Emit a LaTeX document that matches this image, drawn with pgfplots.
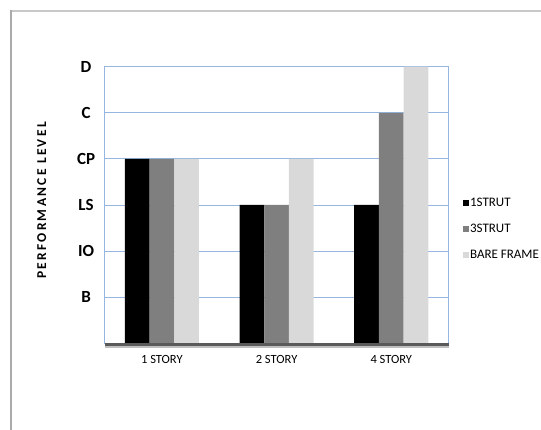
\documentclass[border=0pt]{standalone}
\usepackage{pgfplots}
\pgfplotsset{compat=1.18}
\usepackage{fontspec}
\setmainfont{Carlito}
\newfontfamily\ylabfont[LetterSpace=17]{Carlito}
\definecolor{gridblue}{RGB}{150,182,225}
\definecolor{barblack}{RGB}{0,0,0}
\definecolor{bargray}{RGB}{127,127,127}
\definecolor{barlight}{RGB}{217,217,217}
\definecolor{axisdark}{RGB}{90,90,90}
\definecolor{framegray}{RGB}{200,200,200}
\definecolor{framedark}{RGB}{170,170,170}
\begin{document}
\begin{tikzpicture}[x=1pt,y=1pt]
\path[use as bounding box] (0,0) rectangle (541,430);
\draw[line width=1.6pt, framegray] (11,419) -- (541,419);
\draw[line width=1.8pt, framedark] (11,0) -- (11,419.8);
\begin{axis}[
  at={(104.6pt,86.7pt)}, anchor=south west,
  scale only axis, width=344pt, height=276.6pt,
  ybar=0pt, bar width=24.7pt,
  xmin=-0.5, xmax=2.5, ymin=0, ymax=6,
  xtick={0,1,2}, xticklabels={1 STORY, 2 STORY, 4 STORY},
  ytick={1,2,3,4,5,6}, yticklabels={B,IO,LS,CP,C,D},
  major tick length=0pt,
  ymajorgrids, grid style={gridblue, line width=0.9pt},
  axis line style={gridblue, line width=0.9pt},
  xticklabel style={font=\fontsize{12.5}{14}\selectfont, yshift=-9pt},
  yticklabel style={font=\fontsize{17}{20}\selectfont\bfseries, anchor=center, xshift=-18.5pt},
  ylabel={PERFORMANCE LEVEL},
  ylabel style={font=\fontsize{13.5}{16}\selectfont\bfseries\ylabfont, at={(axis description cs:-0.183,0.516)}, anchor=center},
  legend style={draw=none, fill=none, at={(axis description cs:1.04,0.413)}, anchor=west,
    font=\fontsize{13}{15}\selectfont, row sep=12pt, inner sep=0pt, nodes={inner xsep=1.5pt}},
  legend cell align=left,
  legend image code/.code={\fill[#1] (0pt,-3pt) rectangle (6pt,3pt);},
  clip=false,
]
\addplot[fill=barblack, draw=none] coordinates {(0,4) (1,3) (2,3)};
\addplot[fill=bargray, draw=none] coordinates {(0,4) (1,3) (2,5)};
\addplot[fill=barlight, draw=none] coordinates {(0,4) (1,4) (2,6)};
\legend{1STRUT,3STRUT,BARE FRAME}
\draw[line width=2pt, black!25] ([yshift=-3.5pt]rel axis cs:0,0) -- ([yshift=-3.5pt]rel axis cs:1,0);
\draw[line width=3pt, axisdark] ([yshift=-1pt]rel axis cs:0,0) -- ([yshift=-1pt]rel axis cs:1,0);
\end{axis}
\end{tikzpicture}
\end{document}
